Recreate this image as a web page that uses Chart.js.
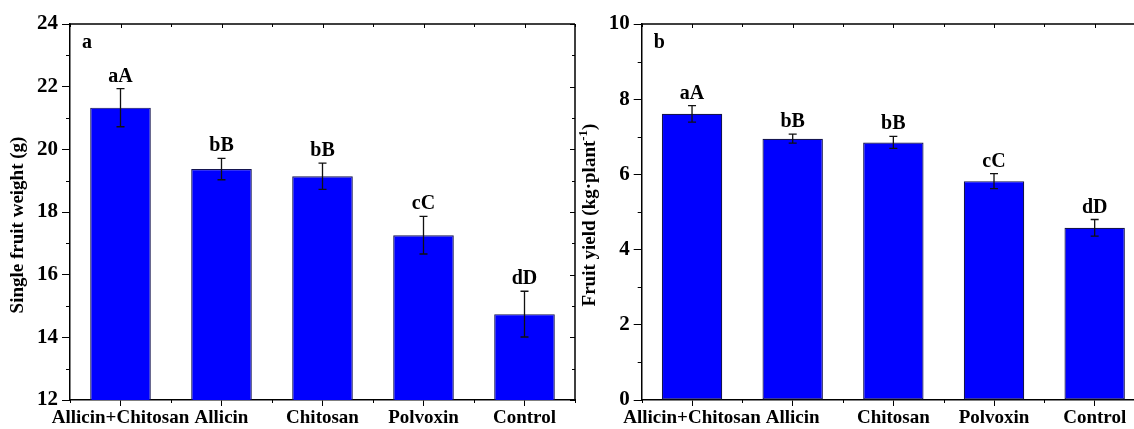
<!DOCTYPE html>
<html>
<head>
<meta charset="utf-8">
<script src="https://cdn.jsdelivr.net/npm/chart.js@4.4.0/dist/chart.umd.min.js"></script>
<style>
  html, body { margin: 0; padding: 0; background: #fff; overflow: hidden; }
  body { width: 1134px; height: 429px; position: relative; }
  .panel { position: absolute; top: 0; }
  #left { left: 0; }
  #right { left: 570px; }
</style>
</head>
<body>
<div class="panel" id="left"><canvas id="weightChart" width="580" height="429"></canvas></div>
<div class="panel" id="right"><canvas id="yieldChart" width="580" height="429"></canvas></div>
<script>
// tratamentos
const categories = ['Allicin+Chitosan', 'Allicin', 'Chitosan', 'Polvoxin', 'Control'];

// painel a - peso do fruto (g)
const weightValues = [21.33, 19.37, 19.14, 17.26, 14.74];
const weightErrors = [0.61, 0.34, 0.42, 0.60, 0.73];
const weightLetters = ['aA', 'bB', 'bB', 'cC', 'dD'];
const weightTicks = [12, 14, 16, 18, 20, 22, 24];

// painel b - produção (kg por planta)
const yieldValues = [7.61, 6.95, 6.85, 5.82, 4.58];
const yieldErrors = [0.22, 0.12, 0.16, 0.20, 0.22];
const yieldLetters = ['aA', 'bB', 'bB', 'cC', 'dD'];
const yieldTicks = [0, 2, 4, 6, 8, 10];

const FONT = '"Liberation Serif", "Times New Roman", serif';

// barras de erro, letras, moldura e ticks menores
const decorPlugin = {
    id: 'decor',
    afterDatasetsDraw(chart, args, opts) {
        const ctx = chart.ctx;
        const area = chart.chartArea;
        const xs = chart.scales.x;
        const ys = chart.scales.y;
        ctx.save();

        // barras de erro
        ctx.strokeStyle = '#111';
        ctx.lineWidth = 1.3;
        opts.values.forEach((v, i) => {
            const x = xs.getPixelForValue(i);
            const top = ys.getPixelForValue(v + opts.errors[i]);
            const bot = ys.getPixelForValue(v - opts.errors[i]);
            ctx.beginPath();
            ctx.moveTo(x, top); ctx.lineTo(x, bot);
            ctx.moveTo(x - 4, top); ctx.lineTo(x + 4, top);
            ctx.moveTo(x - 4, bot); ctx.lineTo(x + 4, bot);
            ctx.stroke();

            // letras de significância
            ctx.fillStyle = '#000';
            ctx.font = 'bold 20px ' + FONT;
            ctx.textAlign = 'center';
            ctx.textBaseline = 'alphabetic';
            ctx.fillText(opts.letters[i], x, top - 7);
        });

        // moldura
        ctx.strokeStyle = '#000';
        ctx.lineWidth = 1.5;
        ctx.beginPath();
        ctx.moveTo(area.left, area.top); ctx.lineTo(area.right, area.top);
        ctx.moveTo(area.right, area.top); ctx.lineTo(area.right, area.bottom);
        ctx.stroke();

        // ticks menores no eixo y (fora) e ticks espelhados (dentro)
        ctx.lineWidth = 1;
        const step = opts.tickStep;
        for (let t = ys.min; t <= ys.max + 1e-9; t += step / 2) {
            const y = Math.round(ys.getPixelForValue(t)) + 0.5;
            const major = Math.abs((t - ys.min) / step - Math.round((t - ys.min) / step)) < 1e-6;
            ctx.beginPath();
            if (!major) {
                ctx.moveTo(area.left - 4, y); ctx.lineTo(area.left, y);
            }
            ctx.moveTo(area.right, y); ctx.lineTo(area.right - (major ? 5 : 3), y);
            ctx.stroke();
        }
        // ticks menores no eixo x
        for (let i = 0; i <= categories.length; i++) {
            const x = Math.round(xs.getPixelForValue(i - 0.5)) + 0.5;
            ctx.beginPath();
            ctx.moveTo(x, area.bottom); ctx.lineTo(x, area.bottom + 3);
            ctx.moveTo(x, area.top); ctx.lineTo(x, area.top + 3);
            ctx.stroke();
        }
        for (let i = 0; i < categories.length; i++) {
            const x = Math.round(xs.getPixelForValue(i)) + 0.5;
            ctx.beginPath();
            ctx.moveTo(x, area.top); ctx.lineTo(x, area.top + 4);
            ctx.stroke();
        }

        // rótulo do painel
        ctx.fillStyle = '#000';
        ctx.font = 'bold 20px ' + FONT;
        ctx.textAlign = 'left';
        ctx.fillText(opts.panel, area.left + 12, 48);

        // título do eixo y (com sobrescrito)
        ctx.translate(area.left - 52, (area.top + area.bottom) / 2 + opts.titleShift);
        ctx.rotate(-Math.PI / 2);
        ctx.textBaseline = 'middle';
        const parts = opts.yTitle;
        const bigFont = 'bold 19px ' + FONT;
        const smallFont = 'bold 13px ' + FONT;
        let total = 0;
        parts.forEach(p => { ctx.font = p.sup ? smallFont : bigFont; total += ctx.measureText(p.text).width; });
        let cx = -total / 2;
        parts.forEach(p => {
            ctx.font = p.sup ? smallFont : bigFont;
            ctx.textAlign = 'left';
            ctx.fillText(p.text, cx, p.sup ? -6 : 0);
            cx += ctx.measureText(p.text).width;
        });
        ctx.restore();
    }
};

function makeChart(id, values, errors, letters, ticks, panel, yTitle, yWidth, titleShift) {
    const tickStep = ticks[1] - ticks[0];
    return new Chart(document.getElementById(id).getContext('2d'), {
        type: 'bar',
        data: {
            labels: categories,
            datasets: [{
                data: values,
                backgroundColor: '#0000FF',
                borderColor: '#141450',
                borderWidth: 1.2,
                borderSkipped: false,
                barPercentage: 0.6,
                categoryPercentage: 1.0
            }]
        },
        options: {
            responsive: false,
            animation: false,
            layout: { padding: { top: 24, right: 5, left: 0, bottom: 0 } },
            plugins: {
                legend: { display: false },
                tooltip: { enabled: false },
                decor: { values, errors, letters, panel, yTitle, tickStep, titleShift }
            },
            scales: {
                x: {
                    offset: true,
                    afterFit: s => { s.height = 29; },
                    grid: {
                        offset: false,
                        drawOnChartArea: false,
                        drawTicks: true,
                        tickLength: 6,
                        color: '#000',
                        lineWidth: 1
                    },
                    border: { display: true, color: '#000', width: 1.5 },
                    ticks: {
                        color: '#000',
                        padding: 1,
                        maxRotation: 0,
                        autoSkip: false,
                        font: { family: FONT, size: 19, weight: 'bold' }
                    }
                },
                y: {
                    min: ticks[0],
                    max: ticks[ticks.length - 1],
                    afterFit: s => { s.width = yWidth; },
                    afterBuildTicks: s => { s.ticks = ticks.map(v => ({ value: v })); },
                    grid: {
                        drawOnChartArea: false,
                        drawTicks: true,
                        tickLength: 8,
                        color: '#000',
                        lineWidth: 1
                    },
                    border: { display: true, color: '#000', width: 1.5 },
                    ticks: {
                        color: '#000',
                        padding: 4,
                        font: { family: FONT, size: 21, weight: 'bold' }
                    }
                }
            }
        },
        plugins: [decorPlugin]
    });
}

makeChart('weightChart', weightValues, weightErrors, weightLetters, weightTicks, 'a',
    [{ text: 'Single fruit weight (g)' }], 70, 13);
makeChart('yieldChart', yieldValues, yieldErrors, yieldLetters, yieldTicks, 'b',
    [{ text: 'Fruit yield (kg\u00B7plant' }, { text: '-1', sup: true }, { text: ')' }], 71.7, 3);
</script>
</body>
</html>
